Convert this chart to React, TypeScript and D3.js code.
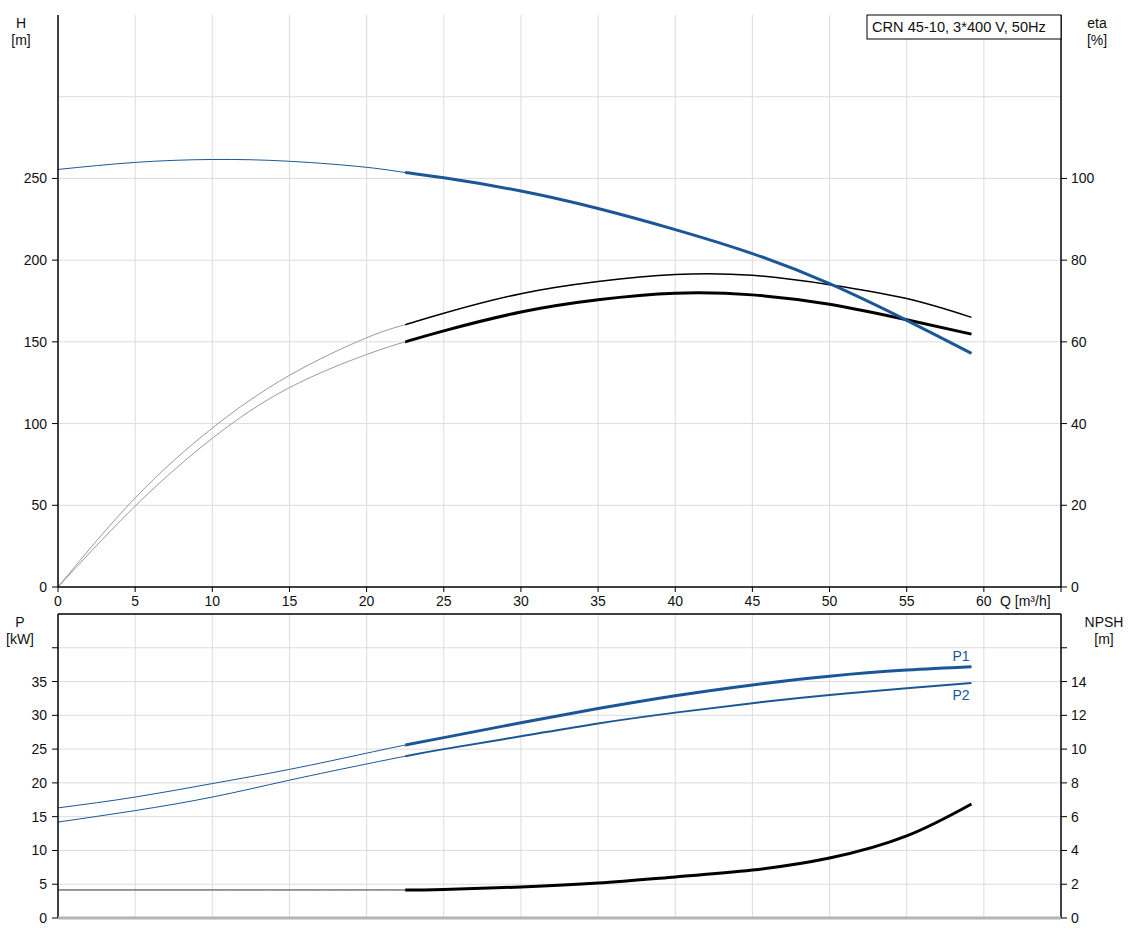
import { useEffect, useRef } from 'react';
import * as d3 from 'd3';

// flow values (m³/h), thin part = outside the operating range
const qThin = [0, 5, 10, 15, 20, 22.5];
const qThick = [22.5, 25, 30, 35, 40, 45, 50, 55, 59.2];

// head H [m]
const headThin = [255.5, 259.8, 261.6, 260.5, 256.8, 253.6];
const headThick = [253.6, 250.4, 242.3, 231.6, 218.7, 204, 185.6, 163.2, 143];

// efficiency curves [%]
const etaUpperThin = [0, 21.8, 38.9, 51.8, 61, 64.2];
const etaUpperThick = [64.2, 67, 71.8, 74.8, 76.5, 76.3, 74, 70.6, 66];
const etaLowerThin = [0, 19.8, 36.4, 48.8, 56.9, 60];
const etaLowerThick = [60, 62.7, 67.3, 70.3, 71.9, 71.5, 69.2, 65.4, 61.9];

// power [kW]
const p1Thin = [16.3, 17.9, 19.9, 22, 24.4, 25.6];
const p1Thick = [25.6, 26.7, 28.9, 31, 32.9, 34.5, 35.8, 36.7, 37.2];
const p2Thin = [14.2, 15.9, 17.9, 20.4, 22.8, 23.95];
const p2Thick = [23.95, 25, 26.9, 28.8, 30.4, 31.8, 33, 34, 34.8];

// NPSH [m]
const npshThin = [1.66, 1.66, 1.66, 1.66, 1.66, 1.66];
const npshThick = [1.66, 1.69, 1.84, 2.07, 2.43, 2.84, 3.55, 4.86, 6.75];

const qTicks = [0, 5, 10, 15, 20, 25, 30, 35, 40, 45, 50, 55, 60];
const hTicks = [0, 50, 100, 150, 200, 250];
const hGrid = [0, 50, 100, 150, 200, 250, 300];
const etaTicks = [0, 20, 40, 60, 80, 100];
const pTicks = [0, 5, 10, 15, 20, 25, 30, 35, 40];
const npshTicks = [0, 2, 4, 6, 8, 10, 12, 14, 16];

const title = 'CRN 45-10, 3*400 V, 50Hz';

const BLUE = '#1b5796';
const FONT = 'Arial, "Liberation Sans", sans-serif';

function PumpChart() {
  const svgRef = useRef<SVGSVGElement | null>(null);
  const width = 1130;
  const height = 930;
  const left = 58;
  const right = 1061;
  const top1 = 15;
  const bottom1 = 587;
  const top2 = 614;
  const bottom2 = 918;

  useEffect(() => {
    const svg = d3.select(svgRef.current);
    svg.selectAll('*').remove();
    svg.attr('viewBox', `0,0,${width},${height}`);

    const x = d3.scaleLinear().domain([0, 65]).range([left, right]);
    const yH = d3.scaleLinear().domain([0, 350]).range([bottom1, top1]);
    const yEta = d3.scaleLinear().domain([0, 140]).range([bottom1, top1]);
    const yP = d3.scaleLinear().domain([0, 45]).range([bottom2, top2]);
    const yN = d3.scaleLinear().domain([0, 18]).range([bottom2, top2]);

    const txt = (xx: number, yy: number, s: string, anchor = 'start', color = '#111', size = 14) =>
      svg
        .append('text')
        .attr('x', xx)
        .attr('y', yy)
        .attr('text-anchor', anchor)
        .attr('font-family', FONT)
        .attr('font-size', size)
        .attr('fill', color)
        .text(s);

    // clip regions: thin part left of the operating range, thick part inside it
    const split = x(22.5);
    const defs = svg.append('defs');
    defs
      .append('clipPath')
      .attr('id', 'clipThin')
      .append('rect')
      .attr('x', 0)
      .attr('y', 0)
      .attr('width', split)
      .attr('height', height);
    defs
      .append('clipPath')
      .attr('id', 'clipThick')
      .append('rect')
      .attr('x', split)
      .attr('y', 0)
      .attr('width', width - split)
      .attr('height', height);

    // grids
    const grid = svg.append('g').attr('stroke', '#dcdcdc').attr('stroke-width', 1);
    qTicks.slice(1).forEach((q) => {
      grid.append('line').attr('x1', x(q)).attr('x2', x(q)).attr('y1', top1).attr('y2', bottom1);
      grid.append('line').attr('x1', x(q)).attr('x2', x(q)).attr('y1', top2).attr('y2', bottom2);
    });
    hGrid.slice(1).forEach((h) => {
      grid.append('line').attr('x1', left).attr('x2', right).attr('y1', yH(h)).attr('y2', yH(h));
    });
    pTicks.slice(1).forEach((p) => {
      grid.append('line').attr('x1', left).attr('x2', right).attr('y1', yP(p)).attr('y2', yP(p));
    });

    // curves: one smooth path over all points, drawn thin and thick through clips
    const drawCurve = (
      thin: number[],
      thick: number[],
      y: d3.ScaleLinear<number, number>,
      thinColor: string,
      thickColor: string,
      thickW: number
    ) => {
      const qs = [...qThin, ...qThick.slice(1)];
      const vals = [...thin, ...thick.slice(1)];
      const line = d3
        .line<number>()
        .x((_, i) => x(qs[i]))
        .y((d) => y(d))
        .curve(d3.curveNatural);
      const d = line(vals);
      svg
        .append('path')
        .attr('fill', 'none')
        .attr('stroke', thinColor)
        .attr('stroke-width', 1)
        .attr('clip-path', 'url(#clipThin)')
        .attr('d', d);
      svg
        .append('path')
        .attr('fill', 'none')
        .attr('stroke', thickColor)
        .attr('stroke-width', thickW)
        .attr('clip-path', 'url(#clipThick)')
        .attr('d', d);
    };

    drawCurve(etaUpperThin, etaUpperThick, yEta, '#9a9a9a', '#000', 1.5);
    drawCurve(etaLowerThin, etaLowerThick, yEta, '#9a9a9a', '#000', 3);
    drawCurve(headThin, headThick, yH, BLUE, BLUE, 3);

    drawCurve(p1Thin, p1Thick, yP, BLUE, BLUE, 3);
    drawCurve(p2Thin, p2Thick, yP, BLUE, BLUE, 2);
    drawCurve(npshThin, npshThick, yN, '#333', '#000', 3);

    txt(x(59.2) - 2, yP(37.2) - 6, 'P1', 'end', BLUE);
    txt(x(59.2) - 2, yP(34.8) + 17, 'P2', 'end', BLUE);

    // axes
    const ax = svg.append('g').attr('stroke', '#000').attr('stroke-width', 1.5);
    ax.append('line').attr('x1', left).attr('x2', left).attr('y1', top1).attr('y2', bottom1);
    ax.append('line').attr('x1', right).attr('x2', right).attr('y1', top1).attr('y2', bottom1);
    ax.append('line').attr('x1', left).attr('x2', right).attr('y1', bottom1).attr('y2', bottom1);
    ax.append('line').attr('x1', left).attr('x2', left).attr('y1', top2).attr('y2', bottom2);
    ax.append('line').attr('x1', right).attr('x2', right).attr('y1', top2).attr('y2', bottom2);
    ax.append('line').attr('x1', left).attr('x2', right).attr('y1', top2).attr('y2', top2);
    svg
      .append('line')
      .attr('x1', left)
      .attr('x2', right)
      .attr('y1', bottom2)
      .attr('y2', bottom2)
      .attr('stroke', '#b4b4b4')
      .attr('stroke-width', 3);

    const tk = svg.append('g').attr('stroke', '#000').attr('stroke-width', 1);
    [...qTicks, 65].forEach((q) => {
      tk.append('line').attr('x1', x(q)).attr('x2', x(q)).attr('y1', bottom1).attr('y2', bottom1 + 5);
    });
    qTicks.forEach((q) => txt(x(q), bottom1 + 19, String(q), 'middle'));
    txt(1000, bottom1 + 19, 'Q [m³/h]');

    hTicks.forEach((h) => {
      tk.append('line').attr('x1', left - 6).attr('x2', left).attr('y1', yH(h)).attr('y2', yH(h));
      txt(left - 11, yH(h) + 5, String(h), 'end');
    });
    etaTicks.forEach((e) => {
      tk.append('line').attr('x1', right).attr('x2', right + 6).attr('y1', yEta(e)).attr('y2', yEta(e));
      txt(right + 10, yEta(e) + 5, String(e));
    });
    pTicks.forEach((p) => {
      tk.append('line').attr('x1', left - 6).attr('x2', left).attr('y1', yP(p)).attr('y2', yP(p));
      if (p < 40) txt(left - 11, yP(p) + 5, String(p), 'end');
    });
    npshTicks.forEach((n) => {
      tk.append('line').attr('x1', right).attr('x2', right + 6).attr('y1', yN(n)).attr('y2', yN(n));
      if (n < 16) txt(right + 10, yN(n) + 5, String(n));
    });

    // axis titles
    txt(21, 28, 'H', 'middle');
    txt(21, 45, '[m]', 'middle');
    txt(1097, 28, 'eta', 'middle');
    txt(1097, 45, '[%]', 'middle');
    txt(20, 627, 'P', 'middle');
    txt(20, 644, '[kW]', 'middle');
    txt(1104, 627, 'NPSH', 'middle');
    txt(1104, 644, '[m]', 'middle');

    // title box
    svg
      .append('rect')
      .attr('x', 867)
      .attr('y', top1)
      .attr('width', right - 867)
      .attr('height', 24)
      .attr('fill', '#fff')
      .attr('stroke', '#000')
      .attr('stroke-width', 1);
    txt(872, 32, title, 'start', '#111', 14.6);
  }, []);

  return (
    <svg
      ref={svgRef}
      width={width}
      height={height}
      style={{ position: 'absolute', left: 0, top: 0, background: '#fff' }}
    />
  );
}

export default function App() {
  return <PumpChart />;
}
